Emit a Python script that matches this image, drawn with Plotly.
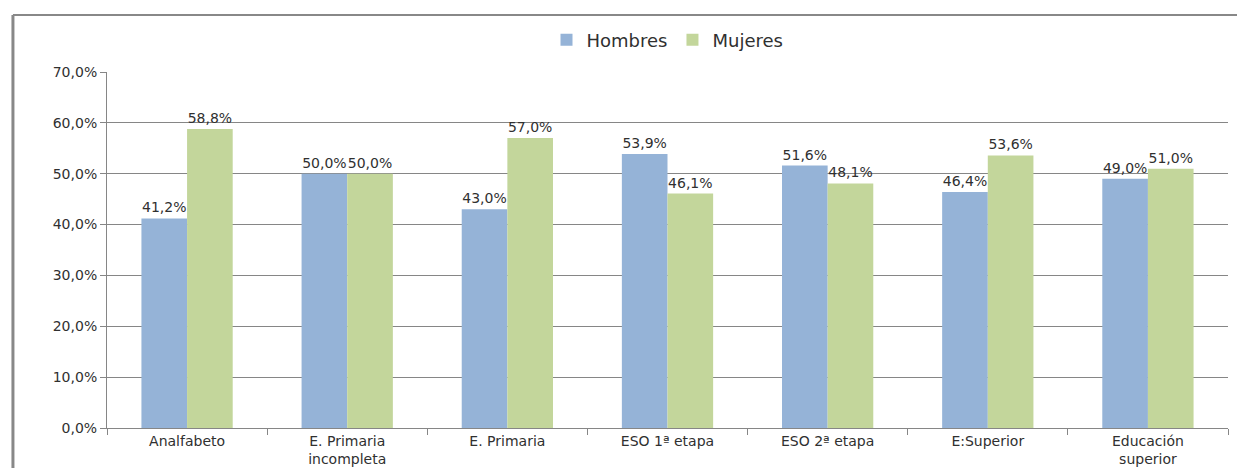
import plotly.graph_objects as go

categories = ["Analfabeto", "E. Primaria<br>incompleta", "E. Primaria", "ESO 1ª etapa",
              "ESO 2ª etapa", "E:Superior", "Educación<br>superior"]
hombres = [41.2, 50.0, 43.0, 53.9, 51.6, 46.4, 49.0]
mujeres = [58.8, 50.0, 57.0, 46.1, 48.1, 53.6, 51.0]

h = [v / 100 for v in hombres]
m = [v / 100 for v in mujeres]

font_family = "DejaVu Sans, Verdana, sans-serif"
text_color = "#303030"

fig = go.Figure()
fig.add_trace(go.Bar(name="Hombres", x=categories, y=h, marker_color="#95B3D7",
                     marker_line_width=0,
                     texttemplate="%{y:.1%}", textposition="outside",
                     textfont=dict(size=14, color=text_color), cliponaxis=False))
fig.add_trace(go.Bar(name="Mujeres", x=categories, y=m, marker_color="#C3D69B",
                     marker_line_width=0,
                     texttemplate="%{y:.1%}", textposition="outside",
                     textfont=dict(size=14, color=text_color), cliponaxis=False))

fig.update_layout(
    width=1237, height=460,
    margin=dict(l=99, r=17, t=64, b=40, autoexpand=False),
    paper_bgcolor="white", plot_bgcolor="white",
    separators=",.",
    barmode="group", bargap=0.43, bargroupgap=0,
    font=dict(family=font_family, size=14, color=text_color),
    legend=dict(orientation="h", x=0.5, xanchor="center", y=1.09, yanchor="middle",
                font=dict(size=18, color=text_color), itemwidth=30, traceorder="normal"),
    showlegend=True,
)
fig.update_xaxes(showline=True, linecolor="#868686", linewidth=1, automargin=False,
                 ticks="outside", tickson="boundaries", ticklen=6, tickcolor="#868686",
                 tickfont=dict(size=14, color=text_color))
fig.update_yaxes(range=[0, 0.7], dtick=0.1, tickformat=".1%", automargin=False,
                 showgrid=True, gridcolor="#868686", gridwidth=1,
                 showline=True, linecolor="#868686", linewidth=1,
                 ticks="outside", ticklen=6, tickcolor="#868686",
                 tickfont=dict(size=14, color=text_color), zeroline=False)

# chart border (left and top)
fig.add_shape(type="line", xref="paper", yref="paper", x0=-0.0839, x1=-0.0839, y0=-0.2, y1=1.16,
              line=dict(color="#888888", width=3))
fig.add_shape(type="line", xref="paper", yref="paper", x0=-0.0839, x1=1.02, y0=1.16, y1=1.16,
              line=dict(color="#888888", width=2))

fig.write_html("out.html")
